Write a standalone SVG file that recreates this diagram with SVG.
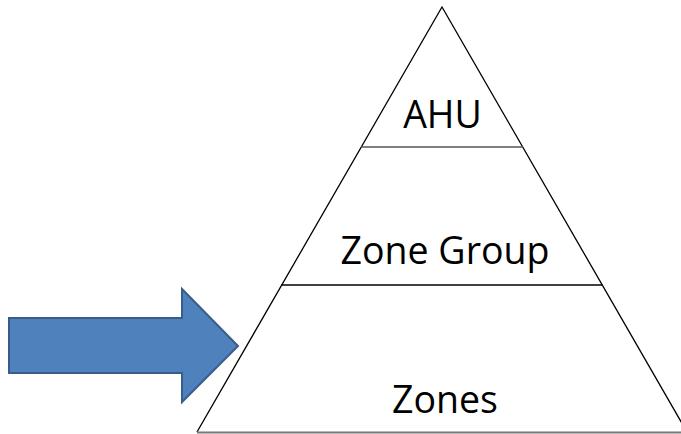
<svg xmlns="http://www.w3.org/2000/svg" width="681" height="434" viewBox="0 0 681 434">
  <style>
    .edge { fill: none; stroke: #000; stroke-width: 1.3; }
    .tier { stroke: #555; stroke-width: 1.3; }
    .label { font-family: "Open Sans", "Liberation Sans", sans-serif; font-size: 37.5px; fill: #000; text-anchor: middle; }
  </style>
  <rect width="681" height="434" fill="#fff"/>
  <!-- pyramid outline and tier dividers -->
  <g id="connectors">
    <polyline class="edge" points="197,432 442,7 687,432"/>
    <line class="tier" x1="361" y1="147" x2="523" y2="147"/>
    <line class="edge" x1="281.5" y1="285" x2="602.5" y2="285"/>
    <line x1="197" y1="432.5" x2="681" y2="432.5" stroke="#777" stroke-width="2"/>
  </g>
  <g id="ahu"><text class="label" x="442.5" y="128">AHU</text></g>
  <g id="zone-group"><text class="label" x="445" y="264">Zone Group</text></g>
  <g id="zones"><text class="label" x="445" y="413">Zones</text></g>
  <!-- pointer arrow -->
  <g id="arrow">
    <polygon points="9,318 182,318 182,289 238,346 182,402 182,373 9,373" fill="#4F81BD" stroke="#385D8A" stroke-width="2"/>
  </g>
</svg>
